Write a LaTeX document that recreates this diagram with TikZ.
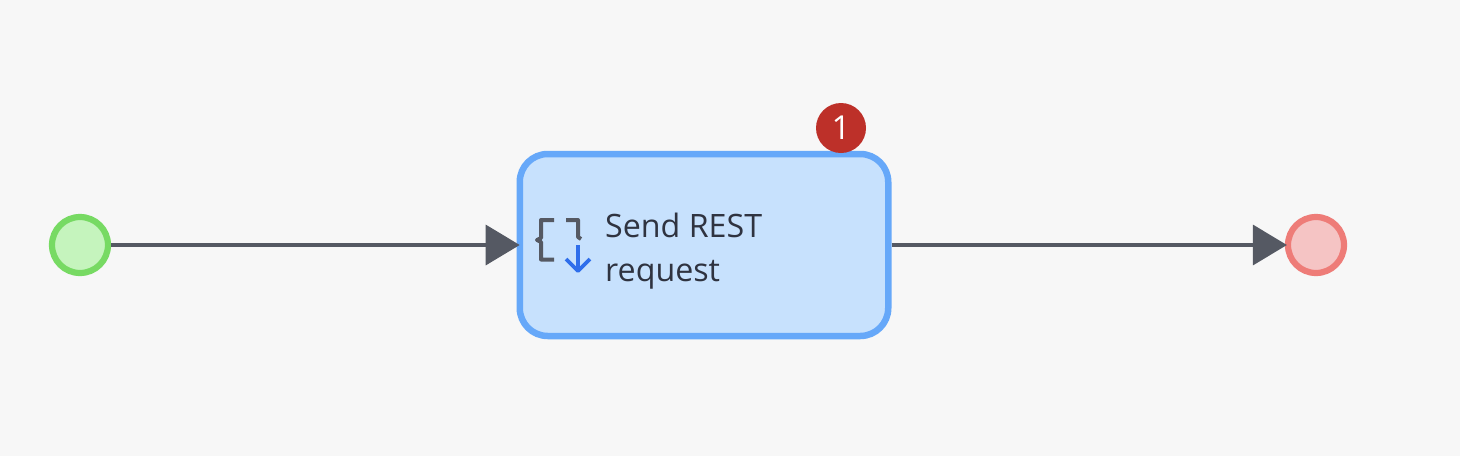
\documentclass[tikz,border=0pt]{standalone}
\usepackage{fontspec}
\setmainfont{Open Sans}
\usetikzlibrary{arrows.meta}
\definecolor{sfondo}{HTML}{F7F7F7}
\definecolor{verdeBordo}{HTML}{77DA63}
\definecolor{verdePieno}{HTML}{C5F4BD}
\definecolor{rossoBordo}{HTML}{EE7C78}
\definecolor{rossoPieno}{HTML}{F5C4C4}
\definecolor{bluBordo}{HTML}{66A8F9}
\definecolor{bluPieno}{HTML}{C7E1FD}
\definecolor{bluFreccia}{HTML}{2F6EEB}
\definecolor{grigioLinea}{HTML}{555963}
\definecolor{testo}{HTML}{2F3340}
\definecolor{rossoBadge}{HTML}{BD3029}
\tikzset{
    evento/.style = {circle, draw, line width = 6.2pt, minimum size = 56pt, inner sep = 0pt},
    flusso/.style = {line width = 3.4pt, color = grigioLinea, -{Triangle[length = 34pt, width = 40pt]}, shorten > = -2pt},
    icona/.style = {line width = 4pt, color = grigioLinea, line join = round},
}
\begin{document}
\begin{tikzpicture}[x = 1pt, y = -1pt]
    % Sfondo
    \fill[sfondo] (0,0) rectangle (1460,456);
    \useasboundingbox (0,0) rectangle (1460,456);
    % Nodi
    \node[evento, draw = verdeBordo, fill = verdePieno] (inizio) at (80,245) {};
    \node[evento, draw = rossoBordo, fill = rossoPieno] (fine) at (1316,245) {};
    \node[draw = bluBordo, fill = bluPieno, line width = 6.5pt, rounded corners = 28pt,
        minimum width = 368.5pt, minimum height = 182pt] (task) at (704,245) {};
    \node[circle, fill = rossoBadge, minimum size = 50pt, inner sep = 0pt, text = white,
        font = \fontsize{33}{33}\selectfont] (badge) at (841,128) {1};
    \node[anchor = west, align = left, inner sep = 0pt, text = testo,
        font = \fontsize{32.2}{44}\selectfont] (testoTask) at (605,251) {Send REST\\request};
    % Frecce
    \draw[flusso, shorten > = -3.2pt] (inizio) -- (task);
    \draw[flusso] (task) -- (fine);
    % Icona
    \draw[icona] (554,220) -- (541,220) -- (541,238) -- (537,240) -- (541,242) -- (541,259.5) -- (554,259.5);
    \draw[icona] (566,220) -- (578,220) -- (578,237) -- (581,239);
    \draw[line width = 3.6pt, color = bluFreccia, line join = round] (578,245) -- (578,271) (566,259) -- (578,271) -- (590,259);
\end{tikzpicture}
\end{document}
